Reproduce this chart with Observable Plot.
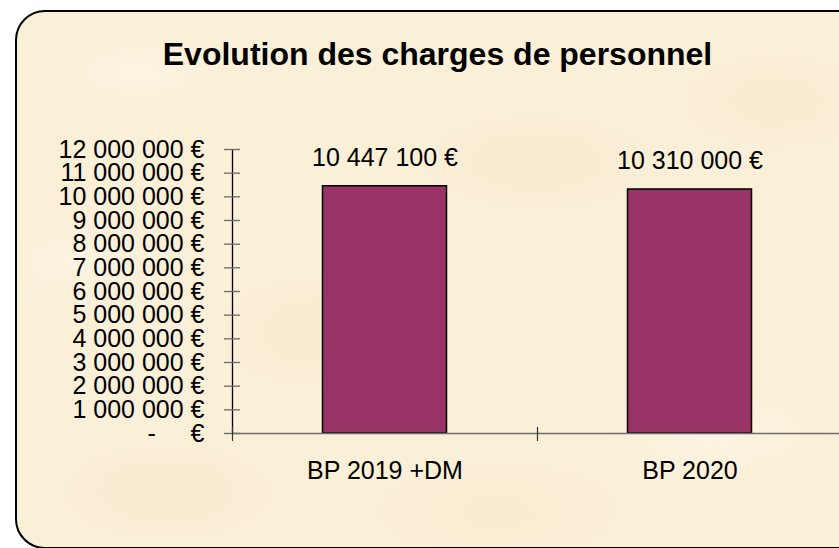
<!DOCTYPE html>
<html><head><meta charset="utf-8">
<script src="https://cdn.jsdelivr.net/npm/d3@7"></script>
<script src="https://cdn.jsdelivr.net/npm/@observablehq/plot@0.6"></script>
<style>
html,body{margin:0;padding:0;background:#fff;overflow:hidden;width:839px;height:548px;}
#wrap{position:relative;width:839px;height:548px;overflow:hidden;font-family:"Liberation Sans",Arial,sans-serif;}
#box{position:absolute;left:15px;top:10px;width:870px;height:535px;border:2px solid #000;border-radius:30px;
 background:
  radial-gradient(ellipse 90px 40px at 120px 60px, rgba(255,251,240,0.45), rgba(255,251,240,0) 100%),
  radial-gradient(ellipse 120px 50px at 520px 150px, rgba(240,224,192,0.3), rgba(240,224,192,0) 100%),
  radial-gradient(ellipse 100px 60px at 300px 320px, rgba(242,228,196,0.35), rgba(242,228,196,0) 100%),
  radial-gradient(ellipse 140px 60px at 700px 420px, rgba(255,251,238,0.45), rgba(255,251,238,0) 100%),
  radial-gradient(ellipse 110px 50px at 150px 480px, rgba(240,226,194,0.35), rgba(240,226,194,0) 100%),
  radial-gradient(ellipse 130px 55px at 480px 500px, rgba(244,230,198,0.3), rgba(244,230,198,0) 100%),
  radial-gradient(ellipse 100px 50px at 760px 90px, rgba(242,228,196,0.3), rgba(242,228,196,0) 100%),
  radial-gradient(ellipse 90px 45px at 60px 250px, rgba(255,251,238,0.45), rgba(255,251,238,0) 100%),
  #faefd7;}
#title{position:absolute;left:0;top:38px;width:875px;text-align:center;font-weight:bold;font-size:32px;line-height:32px;color:#000;}
#chart{position:absolute;left:0;top:100px;width:850px;}
#chart svg{overflow:visible;max-width:none !important;width:850px;height:448px;}
</style>
</head><body>
<div id="wrap">
  <div id="box"></div>
  <div id="title"></div>
  <div id="chart"></div>
</div>
<script>
const titleText = "Evolution des charges de personnel";
const categories = ["BP 2019 +DM", "BP 2020"];
const values = [10447100, 10310000];
const yTicks = [0, 1000000, 2000000, 3000000, 4000000, 5000000, 6000000, 7000000, 8000000, 9000000, 10000000, 11000000, 12000000];
const barColor = "#993366";

document.getElementById("title").textContent = titleText;

const SP = "\u00a0";
const fmt = v => v === 0 ? "-" + SP.repeat(5) + "€" : d3.format(",")(v).replace(/,/g, SP) + SP + "€";

const data = categories.map((c, i) => ({cat: c, i, value: values[i]}));
const boundaries = d3.range(categories.length + 1);
const centers = categories.map((c, i) => i + 0.5);

const chart = Plot.plot({
  width: 850,
  height: 448,
  marginLeft: 232,
  marginRight: 8,
  marginTop: 49,
  marginBottom: 115,
  style: {background: "transparent", fontFamily: "'Liberation Sans', Arial, sans-serif", color: "#000", maxWidth: "none"},
  x: {type: "linear", domain: [0, categories.length], label: null},
  y: {domain: [0, 12000000], label: null},
  marks: [
    Plot.rectY(data, {x1: d => d.i, x2: d => d.i + 1, y: "value", insetLeft: 90.5, insetRight: 90.5, fill: barColor, stroke: "#000", strokeWidth: 1.5}),
    Plot.ruleY([0], {stroke: "#6e6e6e", strokeWidth: 1.5}),
    Plot.ruleX([0], {stroke: "#000", strokeWidth: 1.3}),
    Plot.axisY({ticks: yTicks, tickFormat: () => "", tickSize: 16, dx: 8, stroke: "#6a6a6a", strokeWidth: 1.3, label: null}),
    Plot.axisY({ticks: yTicks, tickFormat: fmt, tickSize: 0, tickPadding: 28, fontSize: 25, fill: "#000", label: null}),
    Plot.axisX({ticks: boundaries, tickFormat: () => "", tickSize: 14, dy: -6, stroke: "#333", strokeWidth: 1.2, label: null}),
    Plot.axisX({ticks: centers, tickFormat: v => categories[Math.floor(v)], tickSize: 0, tickPadding: 28, fontSize: 25, fill: "#000", label: null}),
    Plot.text(data, {x: d => d.i + 0.5, y: "value", text: d => fmt(d.value), dy: -28, fontSize: 25, fill: "#000", lineAnchor: "middle"})
  ]
});
document.getElementById("chart").appendChild(chart);
</script>
</body></html>
